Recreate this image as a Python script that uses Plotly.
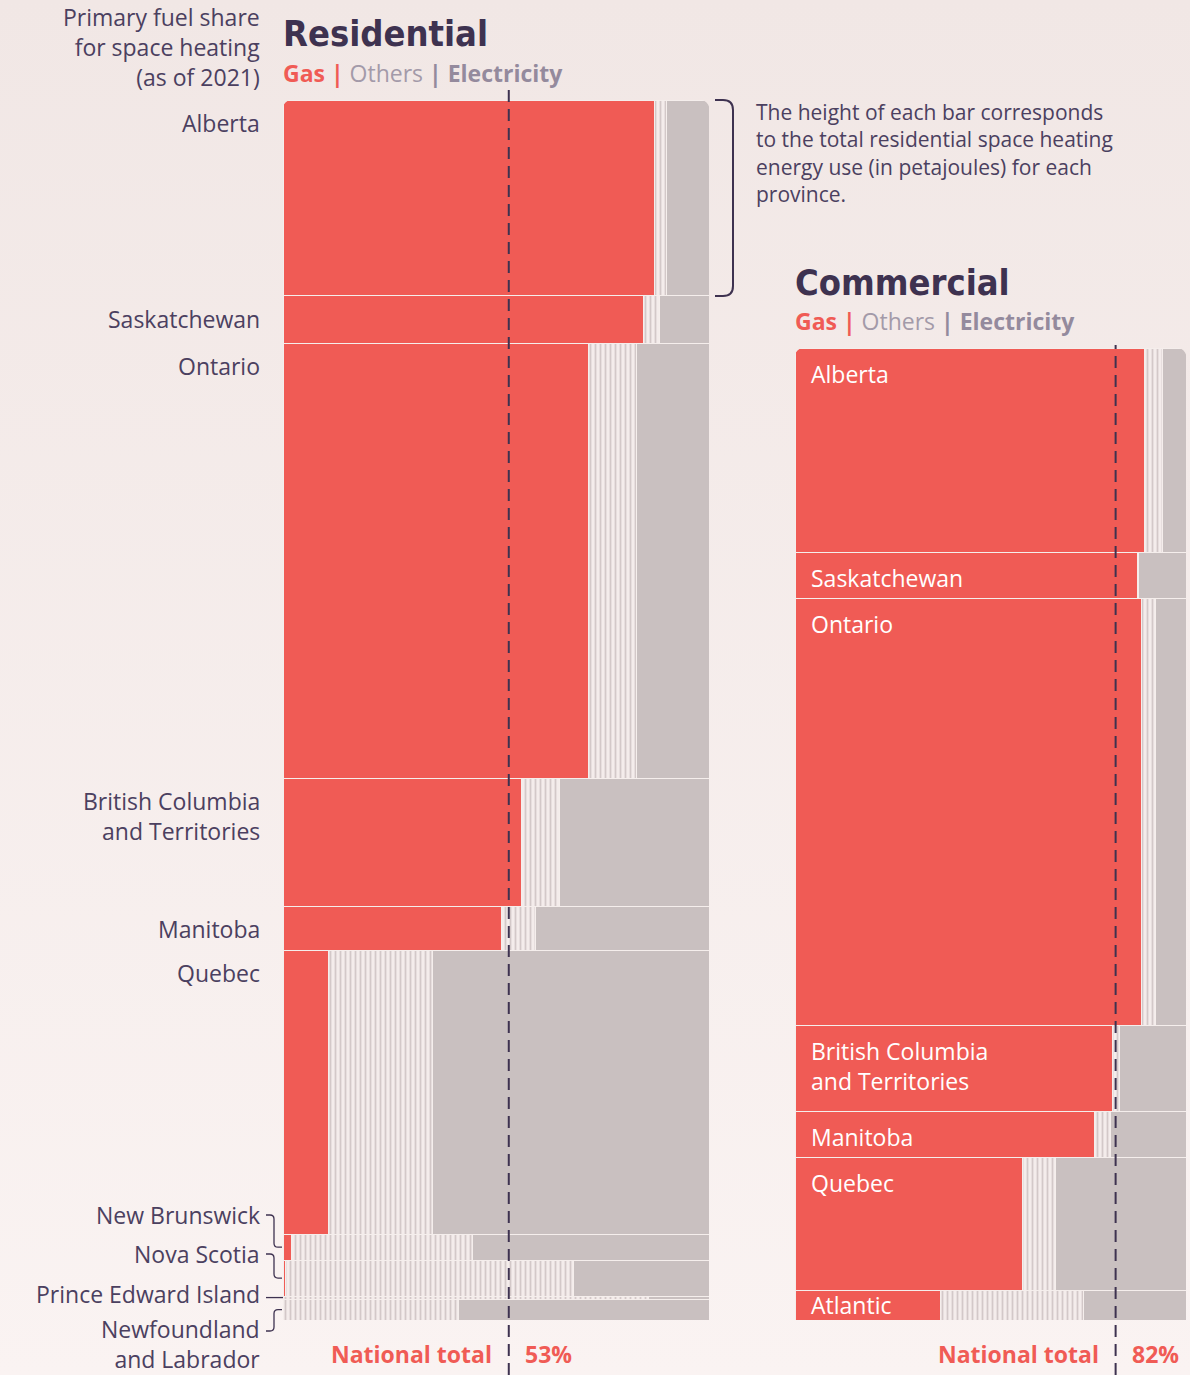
import base64
import plotly.graph_objects as go

# ---------------- data ----------------
res_provinces = ["Alberta", "Saskatchewan", "Ontario", "British Columbia<br>and Territories",
                 "Manitoba", "Quebec", "New Brunswick", "Nova Scotia",
                 "Prince Edward Island", "Newfoundland<br>and Labrador"]
res_energy_pj = [145.0, 34.8, 321.9, 94.7, 32.6, 210.2, 19.2, 26.6, 2.2, 15.5]
res_gas = [87.3, 84.7, 71.8, 56.1, 51.4, 10.6, 2.1, 0.7, 0.0, 0.0]
res_others = [2.8, 3.6, 11.1, 8.7, 7.8, 24.6, 42.3, 67.4, 85.7, 41.1]
res_elec = [9.9, 11.7, 17.1, 35.2, 40.8, 64.8, 55.6, 31.9, 14.3, 58.9]

com_regions = ["Alberta", "Saskatchewan", "Ontario", "British Columbia<br>and Territories",
               "Manitoba", "Quebec", "Atlantic"]
com_energy_pj = [102.0, 23.0, 213.5, 43.0, 23.0, 66.5, 15.0]
com_gas = [89.3, 87.5, 88.7, 81.1, 76.7, 58.3, 37.1]
com_others = [4.6, 0.3, 3.6, 2.0, 4.1, 8.2, 36.6]
com_elec = [6.1, 12.2, 7.7, 16.9, 19.2, 33.5, 26.3]

national_share = [53, 82]  # residential, commercial (%)

# ---------------- style ----------------
W, H = 1190, 1375
GAS = "#f05b55"
ELEC = "#c9c0c0"
OTH_BG = "#f4eceb"
OTH_FG = "#d3c8c8"
SEP = "#f5eeec"
DARK = "#3e3250"
TXT = "#4b4060"
FONT = "Open Sans, Noto Sans, sans-serif"
TITLE_FONT = "Liberation Sans Narrow, DejaVu Sans Condensed, Arial Narrow, Open Sans, sans-serif"
BG_TOP = (241, 231, 229)
BG_BOT = (250, 243, 242)
LBL = 23

RES_X = (283, 709)
RES_Y = (100, 1320)
COM_X = (795, 1186)
COM_Y = (348, 1320)


def px(x):
    return x / W


def py(y):
    return 1 - y / H


def bg_at(ypix):
    t = ypix / H
    c = [round(a + (b - a) * t) for a, b in zip(BG_TOP, BG_BOT)]
    return "rgb({},{},{})".format(*c)


def starts(vals):
    out, cum = [], 0.0
    for v in vals:
        out.append(cum)
        cum += v
    return out


def centers(vals):
    return [s + v / 2 for s, v in zip(starts(vals), vals)]


fig = go.Figure()

for (energy, gas, oth, elec, xa, ya) in [
    (res_energy_pj, res_gas, res_others, res_elec, "x", "y"),
    (com_energy_pj, com_gas, com_others, com_elec, "x2", "y2"),
]:
    yc = centers(energy)
    fig.add_trace(go.Bar(orientation="h", x=gas, y=yc, width=energy, xaxis=xa, yaxis=ya,
                         marker=dict(color=GAS, line=dict(color=SEP, width=1)),
                         showlegend=False, hoverinfo="skip"))
    fig.add_trace(go.Bar(orientation="h", x=oth, y=yc, width=energy, xaxis=xa, yaxis=ya,
                         marker=dict(color=OTH_BG, line=dict(color=SEP, width=1),
                                     pattern=dict(shape="|", fgcolor=OTH_FG, bgcolor=OTH_BG,
                                                  size=5, solidity=0.35, fillmode="replace")),
                         showlegend=False, hoverinfo="skip"))
    fig.add_trace(go.Bar(orientation="h", x=elec, y=yc, width=energy, xaxis=xa, yaxis=ya,
                         marker=dict(color=ELEC, line=dict(color=SEP, width=1)),
                         showlegend=False, hoverinfo="skip"))

res_total = sum(res_energy_pj)
com_total = sum(com_energy_pj)


def res_ypx(v):
    return RES_Y[0] + v / res_total * (RES_Y[1] - RES_Y[0])


def com_ypx(v):
    return COM_Y[0] + v / com_total * (COM_Y[1] - COM_Y[0])


ax_common = dict(visible=False, showgrid=False, zeroline=False, fixedrange=True)

# background gradient via svg image
svg = ('<svg xmlns="http://www.w3.org/2000/svg" width="{w}" height="{h}" preserveAspectRatio="none">'
       '<defs><linearGradient id="g" x1="0" y1="0" x2="0" y2="1">'
       '<stop offset="0" stop-color="rgb{t}"/><stop offset="1" stop-color="rgb{b}"/>'
       '</linearGradient></defs><rect width="{w}" height="{h}" fill="url(#g)"/></svg>').format(
    w=W, h=H, t=BG_TOP, b=BG_BOT)
svg_uri = "data:image/svg+xml;base64," + base64.b64encode(svg.encode()).decode()

annotations = []
shapes = []

# top-left description
annotations.append(dict(x=px(262), y=py(47), xref="paper", yref="paper", xanchor="right",
                        yanchor="middle", align="right", showarrow=False,
                        text="Primary fuel share<br>for space heating<br>(as of 2021)",
                        font=dict(family=FONT, size=23, color=TXT)))

legend_txt = ('<b><span style="color:%s">Gas |</span></b> <span style="color:#a39aa9">Others</span>'
              ' <b><span style="color:#948a9d">| Electricity</span></b>') % GAS

# titles
for title, x0, ty, sy in [("Residential", RES_X[0], 34, 73), ("Commercial", COM_X[0], 282, 321)]:
    annotations.append(dict(x=px(x0 - 2), y=py(ty), xref="paper", yref="paper", xanchor="left",
                            yanchor="middle", showarrow=False, text="<b>%s</b>" % title,
                            font=dict(family=TITLE_FONT, size=36, color=DARK)))
    annotations.append(dict(x=px(x0 - 2), y=py(sy), xref="paper", yref="paper", xanchor="left",
                            yanchor="middle", showarrow=False, text=legend_txt,
                            font=dict(family=FONT, size=23, color=TXT)))

# explanatory note + bracket
annotations.append(dict(x=px(754), y=py(96), xref="paper", yref="paper", xanchor="left",
                        yanchor="top", align="left", showarrow=False,
                        text=("The height of each bar corresponds<br>to the total residential space heating"
                              "<br>energy use (in petajoules) for each<br>province."),
                        font=dict(family=FONT, size=21, color=TXT)))
b0 = res_ypx(0)
b1 = res_ypx(res_energy_pj[0])
bx0, bx1, r = 715, 733, 10
shapes.append(dict(type="path", xref="paper", yref="paper",
                   path=("M {a},{y0} L {b},{y0} Q {c},{y0} {c},{y0r} L {c},{y1r} Q {c},{y1} {b},{y1} L {a},{y1}"
                         ).format(a=px(bx0), b=px(bx1 - r), c=px(bx1), y0=py(b0), y0r=py(b0 + r),
                                  y1=py(b1), y1r=py(b1 - r)),
                   line=dict(color=DARK, width=2)))

# residential labels (large rows)
rs = starts(res_energy_pj)
for i in range(6):
    annotations.append(dict(x=px(262), y=rs[i], xref="paper", yref="y", xanchor="right",
                            yanchor="top", yshift=-5, align="right", showarrow=False,
                            text=res_provinces[i], font=dict(family=FONT, size=LBL, color=TXT)))

# residential labels (small rows) with connectors
small_label_y = [1215, 1254, 1294, 1344]
rc = centers(res_energy_pj)
for k, i in enumerate(range(6, 10)):
    ly = small_label_y[k]
    annotations.append(dict(x=px(262), y=py(ly), xref="paper", yref="paper", xanchor="right",
                            yanchor="middle", align="right", showarrow=False,
                            text=res_provinces[i], font=dict(family=FONT, size=LBL, color=TXT)))
    ry = res_ypx(rc[i])
    ly_c = ly if i != 9 else 1331
    if abs(ry - ly_c) < 6:
        path = "M {a},{y} L {b},{y}".format(a=px(266), b=px(RES_X[0]), y=py(ry))
    else:
        s = 1 if ry > ly_c else -1
        path = ("M {a},{ly} L {m0},{ly} Q {m},{ly} {m},{ly2} L {m},{ry2} Q {m},{ry} {m1},{ry} L {e},{ry}"
                ).format(a=px(266), m0=px(270), m=px(274), m1=px(278), e=px(RES_X[0] - 1),
                         ly=py(ly_c), ly2=py(ly_c + 4 * s), ry=py(ry), ry2=py(ry - 4 * s))
    shapes.append(dict(type="path", xref="paper", yref="paper", path=path,
                       line=dict(color=DARK, width=1.3)))

# commercial labels inside bars
cs = starts(com_energy_pj)
cc = centers(com_energy_pj)
for i, name in enumerate(com_regions):
    if com_energy_pj[i] < 20:
        annotations.append(dict(x=px(809), y=cc[i], xref="paper", yref="y2", xanchor="left",
                                yanchor="middle", align="left", showarrow=False, text=name,
                                font=dict(family=FONT, size=LBL, color="white")))
    else:
        annotations.append(dict(x=px(809), y=cs[i], xref="paper", yref="y2", xanchor="left",
                                yanchor="top", yshift=-8, align="left", showarrow=False, text=name,
                                font=dict(family=FONT, size=LBL, color="white")))

# national total lines & labels
for (xa, share, top) in [("x", national_share[0], 88), ("x2", national_share[1], 345)]:
    shapes.append(dict(type="line", xref=xa, yref="paper", x0=share, x1=share, y0=0, y1=py(top),
                       line=dict(color=DARK, width=2, dash="12px,7px")))
    annotations.append(dict(x=share, y=py(1372), xref=xa, yref="paper", xanchor="right",
                            yanchor="bottom", xshift=-15, showarrow=False, text="<b>National total</b>",
                            font=dict(family=FONT, size=23, color=GAS)))
    annotations.append(dict(x=share, y=py(1372), xref=xa, yref="paper", xanchor="left",
                            yanchor="bottom", xshift=14, showarrow=False, text="<b>%d%%</b>" % share,
                            font=dict(family=FONT, size=23, color=GAS)))

# rounded top corners (masks)
rr = 13
for (x0, x1, y0) in [(RES_X[0], RES_X[1], RES_Y[0]), (COM_X[0], COM_X[1], COM_Y[0])]:
    col = bg_at(y0)
    shapes.append(dict(type="path", xref="paper", yref="paper", fillcolor=col, line=dict(width=0),
                       path="M {a},{b} L {c},{b} Q {a},{b} {a},{d} Z".format(
                           a=px(x0 - 1), b=py(y0 - 1), c=px(x0 + rr), d=py(y0 + rr))))
    shapes.append(dict(type="path", xref="paper", yref="paper", fillcolor=col, line=dict(width=0),
                       path="M {a},{b} L {c},{b} Q {a},{b} {a},{d} Z".format(
                           a=px(x1 + 1), b=py(y0 - 1), c=px(x1 - rr), d=py(y0 + rr))))

fig.update_layout(
    width=W, height=H,
    margin=dict(l=0, r=0, t=0, b=0),
    paper_bgcolor="rgb(245,237,235)",
    plot_bgcolor="rgba(0,0,0,0)",
    barmode="stack",
    showlegend=False,
    hovermode=False,
    xaxis=dict(domain=[px(RES_X[0]), px(RES_X[1])], range=[0, 100], **ax_common),
    yaxis=dict(domain=[py(RES_Y[1]), py(RES_Y[0])], range=[res_total, 0], **ax_common),
    xaxis2=dict(domain=[px(COM_X[0]), px(COM_X[1])], range=[0, 100], anchor="y2", **ax_common),
    yaxis2=dict(domain=[py(COM_Y[1]), py(COM_Y[0])], range=[com_total, 0], anchor="x2", **ax_common),
    images=[dict(source=svg_uri, xref="paper", yref="paper", x=0, y=1, sizex=1, sizey=1,
                 xanchor="left", yanchor="top", sizing="stretch", layer="below")],
    annotations=annotations,
    shapes=shapes,
)

fig.write_html("out.html", config={"displayModeBar": False},
               post_script="document.body.style.margin='0';document.body.style.overflow='hidden';")
